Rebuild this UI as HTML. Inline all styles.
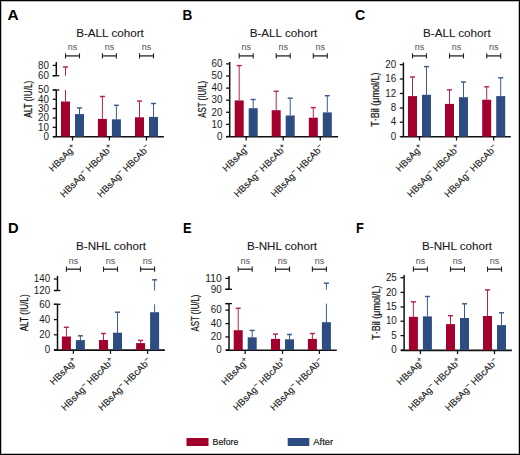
<!DOCTYPE html>
<html><head><meta charset="utf-8"><style>
html,body{margin:0;padding:0;background:#fff;}
svg{display:block;font-family:"Liberation Sans", sans-serif;}
</style></head><body>
<svg width="520" height="455" viewBox="0 0 520 455" font-family='"Liberation Sans", sans-serif'>
<rect x="0" y="0" width="520" height="455" fill="#fff"/>
<text x="7.60" y="19.60" font-size="13.8" font-weight="bold" fill="#000" textLength="11.2" lengthAdjust="spacingAndGlyphs">A</text>
<text x="110.00" y="36.70" font-size="11.4" text-anchor="middle" font-weight="normal" fill="#1a1a1a" stroke="#1a1a1a" stroke-width="0.1" textLength="67.6" lengthAdjust="spacingAndGlyphs" >B-ALL cohort</text>
<text x="72.50" y="50.40" font-size="9.0" text-anchor="middle" font-weight="normal" fill="#505050" >ns</text>
<line x1="65.50" y1="55.90" x2="79.50" y2="55.90" stroke="#333" stroke-width="1.4"/>
<line x1="65.50" y1="53.30" x2="65.50" y2="58.50" stroke="#222" stroke-width="1.1"/>
<line x1="79.50" y1="53.30" x2="79.50" y2="58.50" stroke="#222" stroke-width="1.1"/>
<text x="109.40" y="50.40" font-size="9.0" text-anchor="middle" font-weight="normal" fill="#505050" >ns</text>
<line x1="102.40" y1="55.90" x2="116.40" y2="55.90" stroke="#333" stroke-width="1.4"/>
<line x1="102.40" y1="53.30" x2="102.40" y2="58.50" stroke="#222" stroke-width="1.1"/>
<line x1="116.40" y1="53.30" x2="116.40" y2="58.50" stroke="#222" stroke-width="1.1"/>
<text x="146.50" y="50.40" font-size="9.0" text-anchor="middle" font-weight="normal" fill="#505050" >ns</text>
<line x1="139.50" y1="55.90" x2="153.50" y2="55.90" stroke="#333" stroke-width="1.4"/>
<line x1="139.50" y1="53.30" x2="139.50" y2="58.50" stroke="#222" stroke-width="1.1"/>
<line x1="153.50" y1="53.30" x2="153.50" y2="58.50" stroke="#222" stroke-width="1.1"/>
<line x1="56.30" y1="62.00" x2="56.30" y2="75.70" stroke="#111" stroke-width="1.5"/>
<line x1="52.70" y1="65.40" x2="56.30" y2="65.40" stroke="#111" stroke-width="1.3"/>
<text x="49.00" y="68.60" font-size="10.0" text-anchor="end" font-weight="normal" fill="#1a1a1a" textLength="10.90" lengthAdjust="spacingAndGlyphs" >80</text>
<line x1="52.70" y1="75.70" x2="56.30" y2="75.70" stroke="#111" stroke-width="1.3"/>
<text x="49.00" y="78.90" font-size="10.0" text-anchor="end" font-weight="normal" fill="#1a1a1a" textLength="10.90" lengthAdjust="spacingAndGlyphs" >60</text>
<line x1="52.70" y1="75.70" x2="59.30" y2="75.70" stroke="#111" stroke-width="1.3"/>
<line x1="56.30" y1="90.00" x2="56.30" y2="136.60" stroke="#111" stroke-width="1.5"/>
<line x1="52.70" y1="90.00" x2="56.30" y2="90.00" stroke="#111" stroke-width="1.3"/>
<text x="49.00" y="93.20" font-size="10.0" text-anchor="end" font-weight="normal" fill="#1a1a1a" textLength="10.90" lengthAdjust="spacingAndGlyphs" >50</text>
<line x1="52.70" y1="99.30" x2="56.30" y2="99.30" stroke="#111" stroke-width="1.3"/>
<text x="49.00" y="102.50" font-size="10.0" text-anchor="end" font-weight="normal" fill="#1a1a1a" textLength="10.90" lengthAdjust="spacingAndGlyphs" >40</text>
<line x1="52.70" y1="108.60" x2="56.30" y2="108.60" stroke="#111" stroke-width="1.3"/>
<text x="49.00" y="111.80" font-size="10.0" text-anchor="end" font-weight="normal" fill="#1a1a1a" textLength="10.90" lengthAdjust="spacingAndGlyphs" >30</text>
<line x1="52.70" y1="118.00" x2="56.30" y2="118.00" stroke="#111" stroke-width="1.3"/>
<text x="49.00" y="121.20" font-size="10.0" text-anchor="end" font-weight="normal" fill="#1a1a1a" textLength="10.90" lengthAdjust="spacingAndGlyphs" >20</text>
<line x1="52.70" y1="127.30" x2="56.30" y2="127.30" stroke="#111" stroke-width="1.3"/>
<text x="49.00" y="130.50" font-size="10.0" text-anchor="end" font-weight="normal" fill="#1a1a1a" textLength="10.90" lengthAdjust="spacingAndGlyphs" >10</text>
<line x1="52.70" y1="136.60" x2="56.30" y2="136.60" stroke="#111" stroke-width="1.3"/>
<text x="49.00" y="139.80" font-size="10.0" text-anchor="end" font-weight="normal" fill="#1a1a1a" textLength="5.45" lengthAdjust="spacingAndGlyphs" >0</text>
<line x1="52.70" y1="90.00" x2="59.30" y2="90.00" stroke="#111" stroke-width="1.3"/>
<line x1="53.00" y1="136.80" x2="163.90" y2="136.80" stroke="#111" stroke-width="1.6"/>
<line x1="72.50" y1="136.60" x2="72.50" y2="140.50" stroke="#111" stroke-width="1.3"/>
<line x1="109.40" y1="136.60" x2="109.40" y2="140.50" stroke="#111" stroke-width="1.3"/>
<line x1="146.50" y1="136.60" x2="146.50" y2="140.50" stroke="#111" stroke-width="1.3"/>
<line x1="65.50" y1="101.50" x2="65.50" y2="90.00" stroke="#b8224f" stroke-width="1.0"/>
<line x1="65.50" y1="75.70" x2="65.50" y2="67.00" stroke="#b8224f" stroke-width="1.0"/>
<line x1="63.00" y1="67.00" x2="68.00" y2="67.00" stroke="#b8224f" stroke-width="1.45"/>
<rect x="61.00" y="101.50" width="9.0" height="35.10" fill="#a4002e"/>
<line x1="79.50" y1="114.10" x2="79.50" y2="107.90" stroke="#3a5a90" stroke-width="1.0"/>
<line x1="77.00" y1="107.90" x2="82.00" y2="107.90" stroke="#3a5a90" stroke-width="1.45"/>
<rect x="75.00" y="114.10" width="9.0" height="22.50" fill="#2d4c82"/>
<line x1="102.40" y1="118.90" x2="102.40" y2="96.50" stroke="#b8224f" stroke-width="1.0"/>
<line x1="99.90" y1="96.50" x2="104.90" y2="96.50" stroke="#b8224f" stroke-width="1.45"/>
<rect x="97.90" y="118.90" width="9.0" height="17.70" fill="#a4002e"/>
<line x1="116.40" y1="119.30" x2="116.40" y2="105.30" stroke="#3a5a90" stroke-width="1.0"/>
<line x1="113.90" y1="105.30" x2="118.90" y2="105.30" stroke="#3a5a90" stroke-width="1.45"/>
<rect x="111.90" y="119.30" width="9.0" height="17.30" fill="#2d4c82"/>
<line x1="139.50" y1="117.30" x2="139.50" y2="101.10" stroke="#b8224f" stroke-width="1.0"/>
<line x1="137.00" y1="101.10" x2="142.00" y2="101.10" stroke="#b8224f" stroke-width="1.45"/>
<rect x="135.00" y="117.30" width="9.0" height="19.30" fill="#a4002e"/>
<line x1="153.50" y1="116.90" x2="153.50" y2="103.50" stroke="#3a5a90" stroke-width="1.0"/>
<line x1="151.00" y1="103.50" x2="156.00" y2="103.50" stroke="#3a5a90" stroke-width="1.45"/>
<rect x="149.00" y="116.90" width="9.0" height="19.70" fill="#2d4c82"/>
<text transform="translate(31.90,99.30) rotate(-90)" font-size="10.3" text-anchor="middle" fill="#111" stroke="#111" stroke-width="0.2" textLength="37" lengthAdjust="spacingAndGlyphs">ALT (IU/L)</text>
<text transform="translate(76.50,148.40) rotate(-45)" font-size="9.45" text-anchor="end" fill="#111" stroke="#111" stroke-width="0.1">HBsAg<tspan font-size="7.4" dy="-3.1">+</tspan></text>
<text transform="translate(113.40,148.40) rotate(-45)" font-size="9.45" text-anchor="end" fill="#111" stroke="#111" stroke-width="0.1">HBsAg<tspan font-size="7.4" dy="-3.1">−</tspan><tspan font-size="9.45" dy="3.1"> HBcAb</tspan><tspan font-size="7.4" dy="-3.1">+</tspan></text>
<text transform="translate(150.50,148.40) rotate(-45)" font-size="9.45" text-anchor="end" fill="#111" stroke="#111" stroke-width="0.1">HBsAg<tspan font-size="7.4" dy="-3.1">−</tspan><tspan font-size="9.45" dy="3.1"> HBcAb</tspan><tspan font-size="7.4" dy="-3.1">−</tspan></text>
<text x="182.60" y="19.60" font-size="13.8" font-weight="bold" fill="#000" textLength="9.8" lengthAdjust="spacingAndGlyphs">B</text>
<text x="283.50" y="36.70" font-size="11.4" text-anchor="middle" font-weight="normal" fill="#1a1a1a" stroke="#1a1a1a" stroke-width="0.1" textLength="67.6" lengthAdjust="spacingAndGlyphs" >B-ALL cohort</text>
<text x="246.20" y="50.40" font-size="9.0" text-anchor="middle" font-weight="normal" fill="#505050" >ns</text>
<line x1="239.20" y1="55.90" x2="253.20" y2="55.90" stroke="#333" stroke-width="1.4"/>
<line x1="239.20" y1="53.30" x2="239.20" y2="58.50" stroke="#222" stroke-width="1.1"/>
<line x1="253.20" y1="53.30" x2="253.20" y2="58.50" stroke="#222" stroke-width="1.1"/>
<text x="283.20" y="50.40" font-size="9.0" text-anchor="middle" font-weight="normal" fill="#505050" >ns</text>
<line x1="276.20" y1="55.90" x2="290.20" y2="55.90" stroke="#333" stroke-width="1.4"/>
<line x1="276.20" y1="53.30" x2="276.20" y2="58.50" stroke="#222" stroke-width="1.1"/>
<line x1="290.20" y1="53.30" x2="290.20" y2="58.50" stroke="#222" stroke-width="1.1"/>
<text x="320.30" y="50.40" font-size="9.0" text-anchor="middle" font-weight="normal" fill="#505050" >ns</text>
<line x1="313.30" y1="55.90" x2="327.30" y2="55.90" stroke="#333" stroke-width="1.4"/>
<line x1="313.30" y1="53.30" x2="313.30" y2="58.50" stroke="#222" stroke-width="1.1"/>
<line x1="327.30" y1="53.30" x2="327.30" y2="58.50" stroke="#222" stroke-width="1.1"/>
<line x1="229.70" y1="62.00" x2="229.70" y2="136.50" stroke="#111" stroke-width="1.5"/>
<line x1="226.10" y1="63.90" x2="229.70" y2="63.90" stroke="#111" stroke-width="1.3"/>
<text x="222.40" y="67.10" font-size="10.0" text-anchor="end" font-weight="normal" fill="#1a1a1a" textLength="10.90" lengthAdjust="spacingAndGlyphs" >60</text>
<line x1="226.10" y1="76.00" x2="229.70" y2="76.00" stroke="#111" stroke-width="1.3"/>
<text x="222.40" y="79.20" font-size="10.0" text-anchor="end" font-weight="normal" fill="#1a1a1a" textLength="10.90" lengthAdjust="spacingAndGlyphs" >50</text>
<line x1="226.10" y1="88.10" x2="229.70" y2="88.10" stroke="#111" stroke-width="1.3"/>
<text x="222.40" y="91.30" font-size="10.0" text-anchor="end" font-weight="normal" fill="#1a1a1a" textLength="10.90" lengthAdjust="spacingAndGlyphs" >40</text>
<line x1="226.10" y1="100.20" x2="229.70" y2="100.20" stroke="#111" stroke-width="1.3"/>
<text x="222.40" y="103.40" font-size="10.0" text-anchor="end" font-weight="normal" fill="#1a1a1a" textLength="10.90" lengthAdjust="spacingAndGlyphs" >30</text>
<line x1="226.10" y1="112.30" x2="229.70" y2="112.30" stroke="#111" stroke-width="1.3"/>
<text x="222.40" y="115.50" font-size="10.0" text-anchor="end" font-weight="normal" fill="#1a1a1a" textLength="10.90" lengthAdjust="spacingAndGlyphs" >20</text>
<line x1="226.10" y1="124.40" x2="229.70" y2="124.40" stroke="#111" stroke-width="1.3"/>
<text x="222.40" y="127.60" font-size="10.0" text-anchor="end" font-weight="normal" fill="#1a1a1a" textLength="10.90" lengthAdjust="spacingAndGlyphs" >10</text>
<line x1="226.10" y1="136.50" x2="229.70" y2="136.50" stroke="#111" stroke-width="1.3"/>
<text x="222.40" y="139.70" font-size="10.0" text-anchor="end" font-weight="normal" fill="#1a1a1a" textLength="5.45" lengthAdjust="spacingAndGlyphs" >0</text>
<line x1="226.00" y1="136.70" x2="338.10" y2="136.70" stroke="#111" stroke-width="1.6"/>
<line x1="246.20" y1="136.50" x2="246.20" y2="140.40" stroke="#111" stroke-width="1.3"/>
<line x1="283.20" y1="136.50" x2="283.20" y2="140.40" stroke="#111" stroke-width="1.3"/>
<line x1="320.30" y1="136.50" x2="320.30" y2="140.40" stroke="#111" stroke-width="1.3"/>
<line x1="239.20" y1="100.40" x2="239.20" y2="65.60" stroke="#b8224f" stroke-width="1.0"/>
<line x1="236.70" y1="65.60" x2="241.70" y2="65.60" stroke="#b8224f" stroke-width="1.45"/>
<rect x="234.70" y="100.40" width="9.0" height="36.10" fill="#a4002e"/>
<line x1="253.20" y1="108.20" x2="253.20" y2="99.50" stroke="#3a5a90" stroke-width="1.0"/>
<line x1="250.70" y1="99.50" x2="255.70" y2="99.50" stroke="#3a5a90" stroke-width="1.45"/>
<rect x="248.70" y="108.20" width="9.0" height="28.30" fill="#2d4c82"/>
<line x1="276.20" y1="110.20" x2="276.20" y2="91.30" stroke="#b8224f" stroke-width="1.0"/>
<line x1="273.70" y1="91.30" x2="278.70" y2="91.30" stroke="#b8224f" stroke-width="1.45"/>
<rect x="271.70" y="110.20" width="9.0" height="26.30" fill="#a4002e"/>
<line x1="290.20" y1="115.50" x2="290.20" y2="98.20" stroke="#3a5a90" stroke-width="1.0"/>
<line x1="287.70" y1="98.20" x2="292.70" y2="98.20" stroke="#3a5a90" stroke-width="1.45"/>
<rect x="285.70" y="115.50" width="9.0" height="21.00" fill="#2d4c82"/>
<line x1="313.30" y1="117.70" x2="313.30" y2="107.60" stroke="#b8224f" stroke-width="1.0"/>
<line x1="310.80" y1="107.60" x2="315.80" y2="107.60" stroke="#b8224f" stroke-width="1.45"/>
<rect x="308.80" y="117.70" width="9.0" height="18.80" fill="#a4002e"/>
<line x1="327.30" y1="112.40" x2="327.30" y2="95.70" stroke="#3a5a90" stroke-width="1.0"/>
<line x1="324.80" y1="95.70" x2="329.80" y2="95.70" stroke="#3a5a90" stroke-width="1.45"/>
<rect x="322.80" y="112.40" width="9.0" height="24.10" fill="#2d4c82"/>
<text transform="translate(205.90,99.25) rotate(-90)" font-size="10.3" text-anchor="middle" fill="#111" stroke="#111" stroke-width="0.2" textLength="37" lengthAdjust="spacingAndGlyphs">AST (IU/L)</text>
<text transform="translate(250.20,148.30) rotate(-45)" font-size="9.45" text-anchor="end" fill="#111" stroke="#111" stroke-width="0.1">HBsAg<tspan font-size="7.4" dy="-3.1">+</tspan></text>
<text transform="translate(287.20,148.30) rotate(-45)" font-size="9.45" text-anchor="end" fill="#111" stroke="#111" stroke-width="0.1">HBsAg<tspan font-size="7.4" dy="-3.1">−</tspan><tspan font-size="9.45" dy="3.1"> HBcAb</tspan><tspan font-size="7.4" dy="-3.1">+</tspan></text>
<text transform="translate(324.30,148.30) rotate(-45)" font-size="9.45" text-anchor="end" fill="#111" stroke="#111" stroke-width="0.1">HBsAg<tspan font-size="7.4" dy="-3.1">−</tspan><tspan font-size="9.45" dy="3.1"> HBcAb</tspan><tspan font-size="7.4" dy="-3.1">−</tspan></text>
<text x="355.00" y="19.60" font-size="13.8" font-weight="bold" fill="#000" textLength="10.2" lengthAdjust="spacingAndGlyphs">C</text>
<text x="456.90" y="36.70" font-size="11.4" text-anchor="middle" font-weight="normal" fill="#1a1a1a" stroke="#1a1a1a" stroke-width="0.1" textLength="67.6" lengthAdjust="spacingAndGlyphs" >B-ALL cohort</text>
<text x="419.50" y="50.40" font-size="9.0" text-anchor="middle" font-weight="normal" fill="#505050" >ns</text>
<line x1="412.50" y1="55.90" x2="426.50" y2="55.90" stroke="#333" stroke-width="1.4"/>
<line x1="412.50" y1="53.30" x2="412.50" y2="58.50" stroke="#222" stroke-width="1.1"/>
<line x1="426.50" y1="53.30" x2="426.50" y2="58.50" stroke="#222" stroke-width="1.1"/>
<text x="456.50" y="50.40" font-size="9.0" text-anchor="middle" font-weight="normal" fill="#505050" >ns</text>
<line x1="449.50" y1="55.90" x2="463.50" y2="55.90" stroke="#333" stroke-width="1.4"/>
<line x1="449.50" y1="53.30" x2="449.50" y2="58.50" stroke="#222" stroke-width="1.1"/>
<line x1="463.50" y1="53.30" x2="463.50" y2="58.50" stroke="#222" stroke-width="1.1"/>
<text x="493.70" y="50.40" font-size="9.0" text-anchor="middle" font-weight="normal" fill="#505050" >ns</text>
<line x1="486.70" y1="55.90" x2="500.70" y2="55.90" stroke="#333" stroke-width="1.4"/>
<line x1="486.70" y1="53.30" x2="486.70" y2="58.50" stroke="#222" stroke-width="1.1"/>
<line x1="500.70" y1="53.30" x2="500.70" y2="58.50" stroke="#222" stroke-width="1.1"/>
<line x1="403.40" y1="62.50" x2="403.40" y2="136.60" stroke="#111" stroke-width="1.5"/>
<line x1="399.80" y1="64.60" x2="403.40" y2="64.60" stroke="#111" stroke-width="1.3"/>
<text x="396.10" y="67.80" font-size="10.0" text-anchor="end" font-weight="normal" fill="#1a1a1a" textLength="10.90" lengthAdjust="spacingAndGlyphs" >20</text>
<line x1="399.80" y1="79.00" x2="403.40" y2="79.00" stroke="#111" stroke-width="1.3"/>
<text x="396.10" y="82.20" font-size="10.0" text-anchor="end" font-weight="normal" fill="#1a1a1a" textLength="10.90" lengthAdjust="spacingAndGlyphs" >16</text>
<line x1="399.80" y1="93.50" x2="403.40" y2="93.50" stroke="#111" stroke-width="1.3"/>
<text x="396.10" y="96.70" font-size="10.0" text-anchor="end" font-weight="normal" fill="#1a1a1a" textLength="10.90" lengthAdjust="spacingAndGlyphs" >12</text>
<line x1="399.80" y1="108.00" x2="403.40" y2="108.00" stroke="#111" stroke-width="1.3"/>
<text x="396.10" y="111.20" font-size="10.0" text-anchor="end" font-weight="normal" fill="#1a1a1a" textLength="5.45" lengthAdjust="spacingAndGlyphs" >8</text>
<line x1="399.80" y1="122.20" x2="403.40" y2="122.20" stroke="#111" stroke-width="1.3"/>
<text x="396.10" y="125.40" font-size="10.0" text-anchor="end" font-weight="normal" fill="#1a1a1a" textLength="5.45" lengthAdjust="spacingAndGlyphs" >4</text>
<line x1="399.80" y1="136.60" x2="403.40" y2="136.60" stroke="#111" stroke-width="1.3"/>
<text x="396.10" y="139.80" font-size="10.0" text-anchor="end" font-weight="normal" fill="#1a1a1a" textLength="5.45" lengthAdjust="spacingAndGlyphs" >0</text>
<line x1="401.00" y1="136.80" x2="510.80" y2="136.80" stroke="#111" stroke-width="1.6"/>
<line x1="419.50" y1="136.60" x2="419.50" y2="140.50" stroke="#111" stroke-width="1.3"/>
<line x1="456.50" y1="136.60" x2="456.50" y2="140.50" stroke="#111" stroke-width="1.3"/>
<line x1="493.70" y1="136.60" x2="493.70" y2="140.50" stroke="#111" stroke-width="1.3"/>
<line x1="412.50" y1="96.10" x2="412.50" y2="77.00" stroke="#b8224f" stroke-width="1.0"/>
<line x1="410.00" y1="77.00" x2="415.00" y2="77.00" stroke="#b8224f" stroke-width="1.45"/>
<rect x="408.00" y="96.10" width="9.0" height="40.50" fill="#a4002e"/>
<line x1="426.50" y1="94.80" x2="426.50" y2="66.60" stroke="#3a5a90" stroke-width="1.0"/>
<line x1="424.00" y1="66.60" x2="429.00" y2="66.60" stroke="#3a5a90" stroke-width="1.45"/>
<rect x="422.00" y="94.80" width="9.0" height="41.80" fill="#2d4c82"/>
<line x1="449.50" y1="103.90" x2="449.50" y2="89.90" stroke="#b8224f" stroke-width="1.0"/>
<line x1="447.00" y1="89.90" x2="452.00" y2="89.90" stroke="#b8224f" stroke-width="1.45"/>
<rect x="445.00" y="103.90" width="9.0" height="32.70" fill="#a4002e"/>
<line x1="463.50" y1="97.20" x2="463.50" y2="82.00" stroke="#3a5a90" stroke-width="1.0"/>
<line x1="461.00" y1="82.00" x2="466.00" y2="82.00" stroke="#3a5a90" stroke-width="1.45"/>
<rect x="459.00" y="97.20" width="9.0" height="39.40" fill="#2d4c82"/>
<line x1="486.70" y1="99.70" x2="486.70" y2="86.80" stroke="#b8224f" stroke-width="1.0"/>
<line x1="484.20" y1="86.80" x2="489.20" y2="86.80" stroke="#b8224f" stroke-width="1.45"/>
<rect x="482.20" y="99.70" width="9.0" height="36.90" fill="#a4002e"/>
<line x1="500.70" y1="96.10" x2="500.70" y2="77.80" stroke="#3a5a90" stroke-width="1.0"/>
<line x1="498.20" y1="77.80" x2="503.20" y2="77.80" stroke="#3a5a90" stroke-width="1.45"/>
<rect x="496.20" y="96.10" width="9.0" height="40.50" fill="#2d4c82"/>
<text transform="translate(379.10,99.55) rotate(-90)" font-size="10.3" text-anchor="middle" fill="#111" stroke="#111" stroke-width="0.2" textLength="54.2" lengthAdjust="spacingAndGlyphs">T·Bil (μmol/L)</text>
<text transform="translate(423.50,148.40) rotate(-45)" font-size="9.45" text-anchor="end" fill="#111" stroke="#111" stroke-width="0.1">HBsAg<tspan font-size="7.4" dy="-3.1">+</tspan></text>
<text transform="translate(460.50,148.40) rotate(-45)" font-size="9.45" text-anchor="end" fill="#111" stroke="#111" stroke-width="0.1">HBsAg<tspan font-size="7.4" dy="-3.1">−</tspan><tspan font-size="9.45" dy="3.1"> HBcAb</tspan><tspan font-size="7.4" dy="-3.1">+</tspan></text>
<text transform="translate(497.70,148.40) rotate(-45)" font-size="9.45" text-anchor="end" fill="#111" stroke="#111" stroke-width="0.1">HBsAg<tspan font-size="7.4" dy="-3.1">−</tspan><tspan font-size="9.45" dy="3.1"> HBcAb</tspan><tspan font-size="7.4" dy="-3.1">−</tspan></text>
<text x="8.10" y="232.80" font-size="13.8" font-weight="bold" fill="#000" textLength="10.6" lengthAdjust="spacingAndGlyphs">D</text>
<text x="111.10" y="249.60" font-size="11.4" text-anchor="middle" font-weight="normal" fill="#1a1a1a" stroke="#1a1a1a" stroke-width="0.1" textLength="70.0" lengthAdjust="spacingAndGlyphs" >B-NHL cohort</text>
<text x="73.40" y="263.70" font-size="9.0" text-anchor="middle" font-weight="normal" fill="#505050" >ns</text>
<line x1="66.40" y1="269.20" x2="80.40" y2="269.20" stroke="#333" stroke-width="1.4"/>
<line x1="66.40" y1="266.60" x2="66.40" y2="271.80" stroke="#222" stroke-width="1.1"/>
<line x1="80.40" y1="266.60" x2="80.40" y2="271.80" stroke="#222" stroke-width="1.1"/>
<text x="110.50" y="263.70" font-size="9.0" text-anchor="middle" font-weight="normal" fill="#505050" >ns</text>
<line x1="103.50" y1="269.20" x2="117.50" y2="269.20" stroke="#333" stroke-width="1.4"/>
<line x1="103.50" y1="266.60" x2="103.50" y2="271.80" stroke="#222" stroke-width="1.1"/>
<line x1="117.50" y1="266.60" x2="117.50" y2="271.80" stroke="#222" stroke-width="1.1"/>
<text x="147.60" y="263.70" font-size="9.0" text-anchor="middle" font-weight="normal" fill="#505050" >ns</text>
<line x1="140.60" y1="269.20" x2="154.60" y2="269.20" stroke="#333" stroke-width="1.4"/>
<line x1="140.60" y1="266.60" x2="140.60" y2="271.80" stroke="#222" stroke-width="1.1"/>
<line x1="154.60" y1="266.60" x2="154.60" y2="271.80" stroke="#222" stroke-width="1.1"/>
<line x1="57.50" y1="275.80" x2="57.50" y2="290.50" stroke="#111" stroke-width="1.5"/>
<line x1="53.90" y1="279.00" x2="57.50" y2="279.00" stroke="#111" stroke-width="1.3"/>
<text x="50.20" y="282.20" font-size="10.0" text-anchor="end" font-weight="normal" fill="#1a1a1a" textLength="16.35" lengthAdjust="spacingAndGlyphs" >140</text>
<line x1="53.90" y1="290.50" x2="57.50" y2="290.50" stroke="#111" stroke-width="1.3"/>
<text x="50.20" y="293.70" font-size="10.0" text-anchor="end" font-weight="normal" fill="#1a1a1a" textLength="16.35" lengthAdjust="spacingAndGlyphs" >120</text>
<line x1="53.90" y1="290.50" x2="60.50" y2="290.50" stroke="#111" stroke-width="1.3"/>
<line x1="57.50" y1="304.30" x2="57.50" y2="349.90" stroke="#111" stroke-width="1.5"/>
<line x1="53.90" y1="304.30" x2="57.50" y2="304.30" stroke="#111" stroke-width="1.3"/>
<text x="50.20" y="307.50" font-size="10.0" text-anchor="end" font-weight="normal" fill="#1a1a1a" textLength="10.90" lengthAdjust="spacingAndGlyphs" >60</text>
<line x1="53.90" y1="319.60" x2="57.50" y2="319.60" stroke="#111" stroke-width="1.3"/>
<text x="50.20" y="322.80" font-size="10.0" text-anchor="end" font-weight="normal" fill="#1a1a1a" textLength="10.90" lengthAdjust="spacingAndGlyphs" >40</text>
<line x1="53.90" y1="334.80" x2="57.50" y2="334.80" stroke="#111" stroke-width="1.3"/>
<text x="50.20" y="338.00" font-size="10.0" text-anchor="end" font-weight="normal" fill="#1a1a1a" textLength="10.90" lengthAdjust="spacingAndGlyphs" >20</text>
<line x1="53.90" y1="349.90" x2="57.50" y2="349.90" stroke="#111" stroke-width="1.3"/>
<text x="50.20" y="353.10" font-size="10.0" text-anchor="end" font-weight="normal" fill="#1a1a1a" textLength="5.45" lengthAdjust="spacingAndGlyphs" >0</text>
<line x1="53.90" y1="304.30" x2="60.50" y2="304.30" stroke="#111" stroke-width="1.3"/>
<line x1="54.00" y1="350.10" x2="164.90" y2="350.10" stroke="#111" stroke-width="1.6"/>
<line x1="73.40" y1="349.90" x2="73.40" y2="353.80" stroke="#111" stroke-width="1.3"/>
<line x1="110.50" y1="349.90" x2="110.50" y2="353.80" stroke="#111" stroke-width="1.3"/>
<line x1="147.60" y1="349.90" x2="147.60" y2="353.80" stroke="#111" stroke-width="1.3"/>
<line x1="66.40" y1="336.50" x2="66.40" y2="327.30" stroke="#b8224f" stroke-width="1.0"/>
<line x1="63.90" y1="327.30" x2="68.90" y2="327.30" stroke="#b8224f" stroke-width="1.45"/>
<rect x="61.90" y="336.50" width="9.0" height="13.40" fill="#a4002e"/>
<line x1="80.40" y1="340.10" x2="80.40" y2="335.80" stroke="#3a5a90" stroke-width="1.0"/>
<line x1="77.90" y1="335.80" x2="82.90" y2="335.80" stroke="#3a5a90" stroke-width="1.45"/>
<rect x="75.90" y="340.10" width="9.0" height="9.80" fill="#2d4c82"/>
<line x1="103.50" y1="340.00" x2="103.50" y2="333.50" stroke="#b8224f" stroke-width="1.0"/>
<line x1="101.00" y1="333.50" x2="106.00" y2="333.50" stroke="#b8224f" stroke-width="1.45"/>
<rect x="99.00" y="340.00" width="9.0" height="9.90" fill="#a4002e"/>
<line x1="117.50" y1="332.70" x2="117.50" y2="312.20" stroke="#3a5a90" stroke-width="1.0"/>
<line x1="115.00" y1="312.20" x2="120.00" y2="312.20" stroke="#3a5a90" stroke-width="1.45"/>
<rect x="113.00" y="332.70" width="9.0" height="17.20" fill="#2d4c82"/>
<line x1="140.60" y1="343.10" x2="140.60" y2="340.40" stroke="#b8224f" stroke-width="1.0"/>
<line x1="138.10" y1="340.40" x2="143.10" y2="340.40" stroke="#b8224f" stroke-width="1.45"/>
<rect x="136.10" y="343.10" width="9.0" height="6.80" fill="#a4002e"/>
<line x1="154.60" y1="312.20" x2="154.60" y2="304.30" stroke="#3a5a90" stroke-width="1.0"/>
<line x1="154.60" y1="290.50" x2="154.60" y2="279.80" stroke="#3a5a90" stroke-width="1.0"/>
<line x1="152.10" y1="279.80" x2="157.10" y2="279.80" stroke="#3a5a90" stroke-width="1.45"/>
<rect x="150.10" y="312.20" width="9.0" height="37.70" fill="#2d4c82"/>
<text transform="translate(27.90,312.85) rotate(-90)" font-size="10.3" text-anchor="middle" fill="#111" stroke="#111" stroke-width="0.2" textLength="37" lengthAdjust="spacingAndGlyphs">ALT (IU/L)</text>
<text transform="translate(77.40,361.70) rotate(-45)" font-size="9.45" text-anchor="end" fill="#111" stroke="#111" stroke-width="0.1">HBsAg<tspan font-size="7.4" dy="-3.1">+</tspan></text>
<text transform="translate(114.50,361.70) rotate(-45)" font-size="9.45" text-anchor="end" fill="#111" stroke="#111" stroke-width="0.1">HBsAg<tspan font-size="7.4" dy="-3.1">−</tspan><tspan font-size="9.45" dy="3.1"> HBcAb</tspan><tspan font-size="7.4" dy="-3.1">+</tspan></text>
<text transform="translate(151.60,361.70) rotate(-45)" font-size="9.45" text-anchor="end" fill="#111" stroke="#111" stroke-width="0.1">HBsAg<tspan font-size="7.4" dy="-3.1">−</tspan><tspan font-size="9.45" dy="3.1"> HBcAb</tspan><tspan font-size="7.4" dy="-3.1">−</tspan></text>
<text x="182.90" y="232.80" font-size="13.8" font-weight="bold" fill="#000" textLength="8.6" lengthAdjust="spacingAndGlyphs">E</text>
<text x="282.10" y="249.60" font-size="11.4" text-anchor="middle" font-weight="normal" fill="#1a1a1a" stroke="#1a1a1a" stroke-width="0.1" textLength="70.0" lengthAdjust="spacingAndGlyphs" >B-NHL cohort</text>
<text x="245.20" y="263.70" font-size="9.0" text-anchor="middle" font-weight="normal" fill="#505050" >ns</text>
<line x1="238.20" y1="269.20" x2="252.20" y2="269.20" stroke="#333" stroke-width="1.4"/>
<line x1="238.20" y1="266.60" x2="238.20" y2="271.80" stroke="#222" stroke-width="1.1"/>
<line x1="252.20" y1="266.60" x2="252.20" y2="271.80" stroke="#222" stroke-width="1.1"/>
<text x="282.50" y="263.70" font-size="9.0" text-anchor="middle" font-weight="normal" fill="#505050" >ns</text>
<line x1="275.50" y1="269.20" x2="289.50" y2="269.20" stroke="#333" stroke-width="1.4"/>
<line x1="275.50" y1="266.60" x2="275.50" y2="271.80" stroke="#222" stroke-width="1.1"/>
<line x1="289.50" y1="266.60" x2="289.50" y2="271.80" stroke="#222" stroke-width="1.1"/>
<text x="319.40" y="263.70" font-size="9.0" text-anchor="middle" font-weight="normal" fill="#505050" >ns</text>
<line x1="312.40" y1="269.20" x2="326.40" y2="269.20" stroke="#333" stroke-width="1.4"/>
<line x1="312.40" y1="266.60" x2="312.40" y2="271.80" stroke="#222" stroke-width="1.1"/>
<line x1="326.40" y1="266.60" x2="326.40" y2="271.80" stroke="#222" stroke-width="1.1"/>
<line x1="229.00" y1="276.00" x2="229.00" y2="289.30" stroke="#111" stroke-width="1.5"/>
<line x1="225.40" y1="278.40" x2="229.00" y2="278.40" stroke="#111" stroke-width="1.3"/>
<text x="221.70" y="281.60" font-size="10.0" text-anchor="end" font-weight="normal" fill="#1a1a1a" textLength="16.35" lengthAdjust="spacingAndGlyphs" >110</text>
<line x1="225.40" y1="289.30" x2="229.00" y2="289.30" stroke="#111" stroke-width="1.3"/>
<text x="221.70" y="292.50" font-size="10.0" text-anchor="end" font-weight="normal" fill="#1a1a1a" textLength="10.90" lengthAdjust="spacingAndGlyphs" >90</text>
<line x1="225.40" y1="289.30" x2="232.00" y2="289.30" stroke="#111" stroke-width="1.3"/>
<line x1="229.00" y1="303.60" x2="229.00" y2="350.00" stroke="#111" stroke-width="1.5"/>
<line x1="225.40" y1="303.60" x2="229.00" y2="303.60" stroke="#111" stroke-width="1.3"/>
<line x1="225.40" y1="310.20" x2="229.00" y2="310.20" stroke="#111" stroke-width="1.3"/>
<text x="221.70" y="313.40" font-size="10.0" text-anchor="end" font-weight="normal" fill="#1a1a1a" textLength="10.90" lengthAdjust="spacingAndGlyphs" >60</text>
<line x1="225.40" y1="323.60" x2="229.00" y2="323.60" stroke="#111" stroke-width="1.3"/>
<text x="221.70" y="326.80" font-size="10.0" text-anchor="end" font-weight="normal" fill="#1a1a1a" textLength="10.90" lengthAdjust="spacingAndGlyphs" >40</text>
<line x1="225.40" y1="336.90" x2="229.00" y2="336.90" stroke="#111" stroke-width="1.3"/>
<text x="221.70" y="340.10" font-size="10.0" text-anchor="end" font-weight="normal" fill="#1a1a1a" textLength="10.90" lengthAdjust="spacingAndGlyphs" >20</text>
<line x1="225.40" y1="350.00" x2="229.00" y2="350.00" stroke="#111" stroke-width="1.3"/>
<text x="221.70" y="353.20" font-size="10.0" text-anchor="end" font-weight="normal" fill="#1a1a1a" textLength="5.45" lengthAdjust="spacingAndGlyphs" >0</text>
<line x1="225.40" y1="303.60" x2="232.00" y2="303.60" stroke="#111" stroke-width="1.3"/>
<line x1="226.00" y1="350.20" x2="336.80" y2="350.20" stroke="#111" stroke-width="1.6"/>
<line x1="245.20" y1="350.00" x2="245.20" y2="353.90" stroke="#111" stroke-width="1.3"/>
<line x1="282.50" y1="350.00" x2="282.50" y2="353.90" stroke="#111" stroke-width="1.3"/>
<line x1="319.40" y1="350.00" x2="319.40" y2="353.90" stroke="#111" stroke-width="1.3"/>
<line x1="238.20" y1="330.20" x2="238.20" y2="308.30" stroke="#b8224f" stroke-width="1.0"/>
<line x1="235.70" y1="308.30" x2="240.70" y2="308.30" stroke="#b8224f" stroke-width="1.45"/>
<rect x="233.70" y="330.20" width="9.0" height="19.80" fill="#a4002e"/>
<line x1="252.20" y1="337.30" x2="252.20" y2="330.40" stroke="#3a5a90" stroke-width="1.0"/>
<line x1="249.70" y1="330.40" x2="254.70" y2="330.40" stroke="#3a5a90" stroke-width="1.45"/>
<rect x="247.70" y="337.30" width="9.0" height="12.70" fill="#2d4c82"/>
<line x1="275.50" y1="338.90" x2="275.50" y2="334.10" stroke="#b8224f" stroke-width="1.0"/>
<line x1="273.00" y1="334.10" x2="278.00" y2="334.10" stroke="#b8224f" stroke-width="1.45"/>
<rect x="271.00" y="338.90" width="9.0" height="11.10" fill="#a4002e"/>
<line x1="289.50" y1="339.30" x2="289.50" y2="334.50" stroke="#3a5a90" stroke-width="1.0"/>
<line x1="287.00" y1="334.50" x2="292.00" y2="334.50" stroke="#3a5a90" stroke-width="1.45"/>
<rect x="285.00" y="339.30" width="9.0" height="10.70" fill="#2d4c82"/>
<line x1="312.40" y1="338.90" x2="312.40" y2="333.50" stroke="#b8224f" stroke-width="1.0"/>
<line x1="309.90" y1="333.50" x2="314.90" y2="333.50" stroke="#b8224f" stroke-width="1.45"/>
<rect x="307.90" y="338.90" width="9.0" height="11.10" fill="#a4002e"/>
<line x1="326.40" y1="322.20" x2="326.40" y2="303.60" stroke="#3a5a90" stroke-width="1.0"/>
<line x1="326.40" y1="289.60" x2="326.40" y2="283.20" stroke="#3a5a90" stroke-width="1.0"/>
<line x1="323.90" y1="283.20" x2="328.90" y2="283.20" stroke="#3a5a90" stroke-width="1.45"/>
<rect x="321.90" y="322.20" width="9.0" height="27.80" fill="#2d4c82"/>
<text transform="translate(199.30,313.00) rotate(-90)" font-size="10.3" text-anchor="middle" fill="#111" stroke="#111" stroke-width="0.2" textLength="37" lengthAdjust="spacingAndGlyphs">AST (IU/L)</text>
<text transform="translate(249.20,361.80) rotate(-45)" font-size="9.45" text-anchor="end" fill="#111" stroke="#111" stroke-width="0.1">HBsAg<tspan font-size="7.4" dy="-3.1">+</tspan></text>
<text transform="translate(286.50,361.80) rotate(-45)" font-size="9.45" text-anchor="end" fill="#111" stroke="#111" stroke-width="0.1">HBsAg<tspan font-size="7.4" dy="-3.1">−</tspan><tspan font-size="9.45" dy="3.1"> HBcAb</tspan><tspan font-size="7.4" dy="-3.1">+</tspan></text>
<text transform="translate(323.40,361.80) rotate(-45)" font-size="9.45" text-anchor="end" fill="#111" stroke="#111" stroke-width="0.1">HBsAg<tspan font-size="7.4" dy="-3.1">−</tspan><tspan font-size="9.45" dy="3.1"> HBcAb</tspan><tspan font-size="7.4" dy="-3.1">−</tspan></text>
<text x="356.10" y="232.80" font-size="13.8" font-weight="bold" fill="#000" textLength="7.9" lengthAdjust="spacingAndGlyphs">F</text>
<text x="457.10" y="249.60" font-size="11.4" text-anchor="middle" font-weight="normal" fill="#1a1a1a" stroke="#1a1a1a" stroke-width="0.1" textLength="70.0" lengthAdjust="spacingAndGlyphs" >B-NHL cohort</text>
<text x="420.40" y="263.70" font-size="9.0" text-anchor="middle" font-weight="normal" fill="#505050" >ns</text>
<line x1="413.40" y1="269.20" x2="427.40" y2="269.20" stroke="#333" stroke-width="1.4"/>
<line x1="413.40" y1="266.60" x2="413.40" y2="271.80" stroke="#222" stroke-width="1.1"/>
<line x1="427.40" y1="266.60" x2="427.40" y2="271.80" stroke="#222" stroke-width="1.1"/>
<text x="457.50" y="263.70" font-size="9.0" text-anchor="middle" font-weight="normal" fill="#505050" >ns</text>
<line x1="450.50" y1="269.20" x2="464.50" y2="269.20" stroke="#333" stroke-width="1.4"/>
<line x1="450.50" y1="266.60" x2="450.50" y2="271.80" stroke="#222" stroke-width="1.1"/>
<line x1="464.50" y1="266.60" x2="464.50" y2="271.80" stroke="#222" stroke-width="1.1"/>
<text x="494.50" y="263.70" font-size="9.0" text-anchor="middle" font-weight="normal" fill="#505050" >ns</text>
<line x1="487.50" y1="269.20" x2="501.50" y2="269.20" stroke="#333" stroke-width="1.4"/>
<line x1="487.50" y1="266.60" x2="487.50" y2="271.80" stroke="#222" stroke-width="1.1"/>
<line x1="501.50" y1="266.60" x2="501.50" y2="271.80" stroke="#222" stroke-width="1.1"/>
<line x1="404.10" y1="275.00" x2="404.10" y2="350.20" stroke="#111" stroke-width="1.5"/>
<line x1="400.50" y1="277.70" x2="404.10" y2="277.70" stroke="#111" stroke-width="1.3"/>
<text x="396.80" y="280.90" font-size="10.0" text-anchor="end" font-weight="normal" fill="#1a1a1a" textLength="10.90" lengthAdjust="spacingAndGlyphs" >25</text>
<line x1="400.50" y1="292.40" x2="404.10" y2="292.40" stroke="#111" stroke-width="1.3"/>
<text x="396.80" y="295.60" font-size="10.0" text-anchor="end" font-weight="normal" fill="#1a1a1a" textLength="10.90" lengthAdjust="spacingAndGlyphs" >20</text>
<line x1="400.50" y1="307.00" x2="404.10" y2="307.00" stroke="#111" stroke-width="1.3"/>
<text x="396.80" y="310.20" font-size="10.0" text-anchor="end" font-weight="normal" fill="#1a1a1a" textLength="10.90" lengthAdjust="spacingAndGlyphs" >15</text>
<line x1="400.50" y1="321.20" x2="404.10" y2="321.20" stroke="#111" stroke-width="1.3"/>
<text x="396.80" y="324.40" font-size="10.0" text-anchor="end" font-weight="normal" fill="#1a1a1a" textLength="10.90" lengthAdjust="spacingAndGlyphs" >10</text>
<line x1="400.50" y1="335.60" x2="404.10" y2="335.60" stroke="#111" stroke-width="1.3"/>
<text x="396.80" y="338.80" font-size="10.0" text-anchor="end" font-weight="normal" fill="#1a1a1a" textLength="5.45" lengthAdjust="spacingAndGlyphs" >5</text>
<line x1="400.50" y1="350.20" x2="404.10" y2="350.20" stroke="#111" stroke-width="1.3"/>
<text x="396.80" y="353.40" font-size="10.0" text-anchor="end" font-weight="normal" fill="#1a1a1a" textLength="5.45" lengthAdjust="spacingAndGlyphs" >0</text>
<line x1="401.00" y1="350.40" x2="511.80" y2="350.40" stroke="#111" stroke-width="1.6"/>
<line x1="420.40" y1="350.20" x2="420.40" y2="354.10" stroke="#111" stroke-width="1.3"/>
<line x1="457.50" y1="350.20" x2="457.50" y2="354.10" stroke="#111" stroke-width="1.3"/>
<line x1="494.50" y1="350.20" x2="494.50" y2="354.10" stroke="#111" stroke-width="1.3"/>
<line x1="413.40" y1="316.80" x2="413.40" y2="301.80" stroke="#b8224f" stroke-width="1.0"/>
<line x1="410.90" y1="301.80" x2="415.90" y2="301.80" stroke="#b8224f" stroke-width="1.45"/>
<rect x="408.90" y="316.80" width="9.0" height="33.40" fill="#a4002e"/>
<line x1="427.40" y1="316.40" x2="427.40" y2="296.50" stroke="#3a5a90" stroke-width="1.0"/>
<line x1="424.90" y1="296.50" x2="429.90" y2="296.50" stroke="#3a5a90" stroke-width="1.45"/>
<rect x="422.90" y="316.40" width="9.0" height="33.80" fill="#2d4c82"/>
<line x1="450.50" y1="324.10" x2="450.50" y2="315.70" stroke="#b8224f" stroke-width="1.0"/>
<line x1="448.00" y1="315.70" x2="453.00" y2="315.70" stroke="#b8224f" stroke-width="1.45"/>
<rect x="446.00" y="324.10" width="9.0" height="26.10" fill="#a4002e"/>
<line x1="464.50" y1="318.00" x2="464.50" y2="303.80" stroke="#3a5a90" stroke-width="1.0"/>
<line x1="462.00" y1="303.80" x2="467.00" y2="303.80" stroke="#3a5a90" stroke-width="1.45"/>
<rect x="460.00" y="318.00" width="9.0" height="32.20" fill="#2d4c82"/>
<line x1="487.50" y1="316.00" x2="487.50" y2="289.90" stroke="#b8224f" stroke-width="1.0"/>
<line x1="485.00" y1="289.90" x2="490.00" y2="289.90" stroke="#b8224f" stroke-width="1.45"/>
<rect x="483.00" y="316.00" width="9.0" height="34.20" fill="#a4002e"/>
<line x1="501.50" y1="325.10" x2="501.50" y2="312.80" stroke="#3a5a90" stroke-width="1.0"/>
<line x1="499.00" y1="312.80" x2="504.00" y2="312.80" stroke="#3a5a90" stroke-width="1.45"/>
<rect x="497.00" y="325.10" width="9.0" height="25.10" fill="#2d4c82"/>
<text transform="translate(379.80,312.60) rotate(-90)" font-size="10.3" text-anchor="middle" fill="#111" stroke="#111" stroke-width="0.2" textLength="54.2" lengthAdjust="spacingAndGlyphs">T·Bil (μmol/L)</text>
<text transform="translate(424.40,362.00) rotate(-45)" font-size="9.45" text-anchor="end" fill="#111" stroke="#111" stroke-width="0.1">HBsAg<tspan font-size="7.4" dy="-3.1">+</tspan></text>
<text transform="translate(461.50,362.00) rotate(-45)" font-size="9.45" text-anchor="end" fill="#111" stroke="#111" stroke-width="0.1">HBsAg<tspan font-size="7.4" dy="-3.1">−</tspan><tspan font-size="9.45" dy="3.1"> HBcAb</tspan><tspan font-size="7.4" dy="-3.1">+</tspan></text>
<text transform="translate(498.50,362.00) rotate(-45)" font-size="9.45" text-anchor="end" fill="#111" stroke="#111" stroke-width="0.1">HBsAg<tspan font-size="7.4" dy="-3.1">−</tspan><tspan font-size="9.45" dy="3.1"> HBcAb</tspan><tspan font-size="7.4" dy="-3.1">−</tspan></text>
<rect x="186.5" y="438" width="22" height="8" fill="#a4002e"/>
<text x="212.60" y="444.80" font-size="9.8" text-anchor="start" font-weight="normal" fill="#1a1a1a" stroke="#1a1a1a" stroke-width="0.2" textLength="25.8" lengthAdjust="spacingAndGlyphs" >Before</text>
<rect x="287.7" y="438" width="21.6" height="8" fill="#2d4c82"/>
<text x="313.30" y="444.80" font-size="9.8" text-anchor="start" font-weight="normal" fill="#1a1a1a" stroke="#1a1a1a" stroke-width="0.2" textLength="19.8" lengthAdjust="spacingAndGlyphs" >After</text>
<rect x="0.5" y="0.5" width="519" height="454" fill="none" stroke="#000" stroke-width="1"/>
<rect x="1.5" y="1.5" width="517" height="452" fill="none" stroke="#bbb" stroke-width="1"/>
</svg>
</body></html>
